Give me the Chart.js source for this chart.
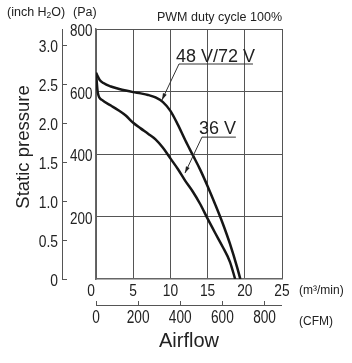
<!DOCTYPE html>
<html>
<head>
<meta charset="utf-8">
<script src="https://cdn.jsdelivr.net/npm/chart.js@4.4.1/dist/chart.umd.min.js"></script>
<style>
  html, body { margin: 0; padding: 0; background: #fff; }
</style>
</head>
<body>
<canvas id="chart" width="352" height="363"></canvas>
<script>
// --- Data (airflow in m3/min, static pressure in Pa) ---
const airflowHigh  = [0, 0.5, 1, 2, 3, 4, 5, 6, 7, 8, 9, 10, 11, 12, 13, 14, 15, 16, 17, 18, 19, 19.4];
const pressureHigh = [660, 637, 627, 616, 609, 603, 598, 594, 589, 581, 566, 538, 494, 444, 397, 350, 297, 240, 180, 113, 35, 0];
const airflowLow   = [0, 0.25, 0.8, 2, 3, 4, 5, 6, 7, 8, 9, 10, 11, 12, 13, 14, 15, 16, 17, 18, 18.7];
const pressureLow  = [660, 595, 573, 555, 540, 523, 500, 482, 465, 447, 420, 386, 352, 314, 280, 240, 193, 148, 104, 55, 0];
const seriesNames  = ['48 V/72 V', '36 V'];

const airflowTicks  = [0, 5, 10, 15, 20, 25];
const pressureTicks = [200, 400, 600, 800];
const inchTicks     = [0, 0.5, 1, 1.5, 2, 2.5, 3];
const cfmTicks      = [0, 200, 400, 600, 800];

const PA_PER_INCH = 249.089;
const CFM_PER_M3MIN = 35.3147;

const plain = '"Liberation Sans", Arial, sans-serif';
const gridColor = '#555';
const textColor = '#222';

const toPoints = (xs, ys) => xs.map((x, i) => ({ x, y: ys[i] }));
const setTicks = (list) => (scale) => { scale.ticks = list.map(v => ({ value: v })); };

// tick labels are drawn squeezed, like the condensed face of the original
const drawTickLabels = (ctx, scale, size, squeeze, align, place, format) => {
  ctx.font = size + 'px ' + plain;
  ctx.textAlign = align;
  ctx.textBaseline = 'alphabetic';
  scale.ticks.forEach(t => {
    const [lx, ly] = place(scale.getPixelForValue(t.value), t.value);
    ctx.save();
    ctx.translate(lx, ly);
    ctx.scale(squeeze, 1);
    ctx.fillText(format(t.value), 0, 0);
    ctx.restore();
  });
};

// --- Extra text, leaders and the two outer axis lines ---
const notes = {
  id: 'notes',
  afterDraw(chart) {
    const { ctx, scales: { x, y, x2, y2 } } = chart;
    const px = v => x.getPixelForValue(v);
    const py = v => y.getPixelForValue(v);
    ctx.save();

    // outer axis lines (inch H2O and CFM)
    ctx.strokeStyle = gridColor;
    ctx.lineWidth = 1;
    ctx.beginPath();
    const lx = Math.round(y2.right - 5) + 0.5;
    ctx.moveTo(lx, y.top); ctx.lineTo(lx, y.bottom);
    const ly = Math.round(x2.top + 4) + 0.5;
    ctx.moveTo(x.left, ly); ctx.lineTo(x.right, ly);
    ctx.stroke();

    ctx.fillStyle = textColor;

    // tick labels
    drawTickLabels(ctx, y, 16, 0.84, 'right', p => [y.right - 3.5, p + 7], v => String(v));
    drawTickLabels(ctx, y2, 16.5, 0.84, 'right', p => [y2.right - 9, p + 7], v => v === 0 ? '0' : v.toFixed(1));
    drawTickLabels(ctx, x, 16, 0.86, 'center', (p, v) => [v === 0 ? p - 5 : p, x.top + 17], v => String(v));
    drawTickLabels(ctx, x2, 18, 0.76, 'center', p => [p, x2.top + 22], v => String(v));

    ctx.textBaseline = 'middle';

    // header texts
    ctx.font = '12.5px ' + plain;
    ctx.textAlign = 'right';
    ctx.fillText('PWM duty cycle 100%', x.right, 18);
    ctx.textAlign = 'left';
    let cx = 7;
    ctx.fillText('(inch H', cx, 13); cx += ctx.measureText('(inch H').width;
    ctx.font = '8.5px ' + plain;
    ctx.fillText('2', cx, 16); cx += ctx.measureText('2').width;
    ctx.font = '12.5px ' + plain;
    ctx.fillText('O)', cx, 13);
    ctx.fillText('(Pa)', 73, 13);

    // unit labels next to the bottom axes
    ctx.font = '12px ' + plain;
    ctx.fillText('(m\u00B3/min)', 299, 291);
    ctx.fillText('(CFM)', 299, 322);

    // axis titles
    ctx.font = '20px ' + plain;
    ctx.textAlign = 'center';
    ctx.fillText('Airflow', (x.left + x.right) / 2, 341);
    ctx.save();
    ctx.translate(24, 147);
    ctx.rotate(-Math.PI / 2);
    ctx.font = '18.5px ' + plain;
    ctx.fillText('Static pressure', 0, 0);
    ctx.restore();

    // curve labels with leaders
    const callout = (text, tx, tyPa, lineY, lineEnd, tipX, tipY) => {
      ctx.font = '18px ' + plain;
      ctx.textAlign = 'left';
      ctx.textBaseline = 'alphabetic';
      ctx.fillText(text, px(tx), py(tyPa));
      const sx = px(tx) + 3, sy = py(lineY);
      const ex = px(tipX), ey = py(tipY);
      ctx.strokeStyle = '#333';
      ctx.lineWidth = 1;
      ctx.beginPath();
      ctx.moveTo(px(lineEnd), sy); ctx.lineTo(sx, sy); ctx.lineTo(ex, ey);
      ctx.stroke();
      const a = Math.atan2(ey - sy, ex - sx);
      ctx.fillStyle = textColor;
      ctx.beginPath();
      ctx.moveTo(ex, ey);
      ctx.lineTo(ex - 7 * Math.cos(a - 0.3), ey - 7 * Math.sin(a - 0.3));
      ctx.lineTo(ex - 7 * Math.cos(a + 0.3), ey - 7 * Math.sin(a + 0.3));
      ctx.closePath();
      ctx.fill();
    };
    callout(seriesNames[0], 10.75, 694, 688, 21.1, 8.87, 573);
    callout(seriesNames[1], 13.84, 464, 454, 18.8, 11.96, 339);

    ctx.restore();
  }
};

const lineStyle = {
  borderColor: '#161616',
  borderWidth: 2.5,
  pointRadius: 0,
  fill: false,
  cubicInterpolationMode: 'monotone'
};

const hiddenLabels = { display: false };

new Chart(document.getElementById('chart'), {
  type: 'line',
  data: {
    datasets: [
      { label: seriesNames[0], data: toPoints(airflowHigh, pressureHigh), ...lineStyle },
      { label: seriesNames[1], data: toPoints(airflowLow, pressureLow), ...lineStyle }
    ]
  },
  options: {
    responsive: false,
    animation: false,
    devicePixelRatio: 1,
    layout: { padding: { top: 29, right: 70, bottom: 0, left: 0 } },
    plugins: { legend: { display: false }, tooltip: { enabled: false } },
    scales: {
      x: {
        type: 'linear', position: 'bottom', weight: 0,
        min: 0, max: 25,
        afterBuildTicks: setTicks(airflowTicks),
        afterFit: s => { s.height = 22; },
        grid: { color: gridColor, lineWidth: 1, drawTicks: false },
        border: { color: '#666', width: 1.5 },
        ticks: hiddenLabels
      },
      x2: {
        type: 'linear', position: 'bottom', weight: 1,
        min: 0, max: 25 * CFM_PER_M3MIN,
        afterBuildTicks: setTicks(cfmTicks),
        afterFit: s => { s.height = 62; },
        grid: { color: gridColor, drawOnChartArea: false, tickLength: 4 },
        border: { display: false },
        ticks: hiddenLabels
      },
      y: {
        type: 'linear', position: 'left', weight: 0,
        min: 0, max: 800,
        afterBuildTicks: setTicks(pressureTicks),
        afterFit: s => { s.width = 29; },
        grid: { color: gridColor, lineWidth: 1, drawTicks: false },
        border: { color: '#666', width: 1.5 },
        ticks: hiddenLabels
      },
      y2: {
        type: 'linear', position: 'left', weight: 1,
        min: 0, max: 800 / PA_PER_INCH,
        afterBuildTicks: setTicks(inchTicks),
        afterFit: s => { s.width = 67; },
        grid: { color: gridColor, drawOnChartArea: false, tickLength: 5 },
        border: { display: false },
        ticks: hiddenLabels
      }
    }
  },
  plugins: [notes]
});
</script>
</body>
</html>
